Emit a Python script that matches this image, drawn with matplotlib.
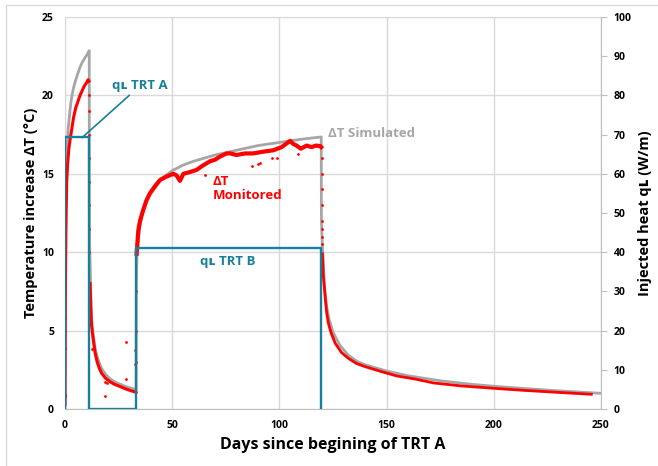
import numpy as np
import matplotlib
matplotlib.use('Agg')
import matplotlib.pyplot as plt
from matplotlib.patches import Rectangle

plt.rcParams['font.family'] = ['Open Sans', 'DejaVu Sans']
plt.rcParams['font.weight'] = 'bold'
plt.rcParams['axes.labelweight'] = 'bold'

# Simulated temperature increase (gray line)
sim_days = [0, 0.05, 0.2, 0.5, 0.8, 1.5, 2.3, 3, 4, 5.5, 7, 8, 9.3, 10.3, 11.3,
            11.35, 11.5, 12, 12.4, 13, 14, 15, 16, 17, 19, 21, 23, 25, 28, 30, 32, 33.2,
            33.3, 33.6, 34, 35, 36, 37, 38, 40, 42, 45, 50, 55, 60, 65, 70, 80, 90, 100, 110, 119.5,
            119.6, 120, 121, 122, 123, 125, 128, 132, 136, 140, 150, 160, 175, 190, 200, 215, 230, 250]
sim_dT = [0, 8.0, 11.5, 14.2, 16.4, 17.9, 19.0, 19.8, 20.5, 21.2, 21.8, 22.1, 22.4, 22.6, 22.85,
          13.0, 10.5, 7.6, 5.7, 4.9, 3.9, 3.35, 2.95, 2.6, 2.2, 1.92, 1.75, 1.62, 1.45, 1.36, 1.28, 1.22,
          8.0, 9.8, 10.6, 11.7, 12.4, 12.9, 13.3, 13.9, 14.3, 14.7, 15.2, 15.55, 15.8, 16.0, 16.2, 16.5, 16.8, 17.0, 17.2, 17.35,
          12.0, 10.5, 7.9, 6.6, 5.8, 4.9, 4.1, 3.45, 3.05, 2.82, 2.42, 2.12, 1.8, 1.57, 1.45, 1.3, 1.16, 1.0]

# Monitored temperature increase (red)
mon_days = [0, 0.1, 0.2, 0.4, 0.6, 0.8, 1.2, 1.8, 2.5, 3.1, 4, 5, 6, 7, 8, 9, 10, 10.8, 11.2,
            11.7, 12.0, 12.4, 13, 14, 15, 16, 17.1, 19, 21, 23, 25, 28, 30, 32.3, 33.2,
            33.4, 34.2, 35, 36.5, 38, 39.6, 42, 44.3, 47, 50.5, 52, 53.6, 55.2, 58, 61.4, 64, 67.6,
            70, 72.3, 75.4, 77, 80, 84, 87.8, 92, 97.2, 101, 103, 105, 106.5, 108, 110, 112.7,
            115, 117, 119, 119.5,
            120.1, 120.5, 121.3, 122, 122.8, 124, 126, 129, 132, 136, 140, 147.7, 155, 163,
            172, 185, 200, 215, 230, 245.5]
mon_dT = [0.3, 5.0, 8.0, 11.0, 13.0, 14.5, 15.6, 16.6, 17.3, 17.8, 18.6, 19.2, 19.6, 20.0, 20.3, 20.6, 20.8, 21.0, 20.9,
          8.0, 6.5, 5.3, 4.6, 3.6, 3.0, 2.6, 2.27, 1.95, 1.74, 1.58, 1.47, 1.3, 1.2, 1.1, 1.05,
          9.9, 11.4, 12.0, 12.7, 13.3, 13.75, 14.2, 14.6, 14.8, 15.0, 14.9, 14.55, 15.0, 15.1, 15.25, 15.5, 15.8,
          15.9, 16.1, 16.3, 16.3, 16.2, 16.3, 16.3, 16.4, 16.5, 16.7, 16.9, 17.1, 16.9, 16.8, 16.6, 16.8,
          16.7, 16.8, 16.77, 16.7,
          9.9, 8.5, 7.2, 6.2, 5.5, 4.9, 4.2, 3.6, 3.25, 2.9, 2.7, 2.38, 2.1, 1.92,
          1.66, 1.47, 1.32, 1.18, 1.06, 0.94]

# Scattered monitored readings (step changes and outliers)
dot_days = [0, 0, 0, 0, 0, 0, 0, 0, 0, 0,
            11.2, 11.2, 11.2, 11.3, 11.3, 11.3, 11.4, 11.4,
            12.7, 18.7, 18.7, 19.7, 28.4, 28.4, 32.7, 32.7,
            33.3, 33.3, 33.3,
            65.3, 87, 90.2, 91, 96.4, 98.7, 108.8,
            119.8, 119.8, 119.9, 119.9, 119.9, 120, 120, 120]
dot_dT = [0.8, 0.9, 3.9, 5.0, 5.8, 6.4, 7.5, 8.6, 9.6, 10.8,
          20.0, 19.0, 17.5, 16.0, 14.5, 13.0, 11.5, 10.0,
          3.8, 0.83, 1.74, 1.64, 4.25, 1.9, 3.76, 2.9,
          3.0, 5.0, 7.5,
          14.9, 15.5, 15.6, 15.7, 16.0, 16.0, 16.25,
          16.0, 15.0, 14.0, 13.0, 12.0, 11.5, 11.0, 10.5]

# Injected heat rate per metre of borehole
q_days = [0, 0, 11.2, 11.2, 33.2, 33.2, 119.5, 119.5]
q_vals = [0, 69.5, 69.5, 0, 0, 41, 41, 0]

grid_c = '#D9D9D9'
teal = '#17809A'
gray = '#A6A6A6'
red = '#FF0000'

fig = plt.figure(figsize=(6.58, 4.66), dpi=100)
ax = fig.add_axes([65 / 658, 1 - 409 / 466, 536 / 658, 392 / 466])

ax.plot(sim_days, sim_dT, color=gray, lw=2.0, zorder=3)
ax.plot(mon_days[:19], mon_dT[:19], color=red, lw=2.2, zorder=4)
ax.plot(mon_days[19:35], mon_dT[19:35], color=red, lw=2.2, zorder=4)
ax.plot(mon_days[35:72], mon_dT[35:72], color=red, lw=3.0, zorder=4)
ax.plot(mon_days[72:], mon_dT[72:], color=red, lw=2.0, zorder=4)
ax.scatter(dot_days, dot_dT, s=4, color=red, lw=0, zorder=4)

ax.set_xlim(0, 250)
ax.set_ylim(0, 25)
ax.set_xticks(np.arange(0, 251, 50))
ax.set_yticks(np.arange(0, 26, 5))
ax.grid(True, color=grid_c, lw=1.0)
ax.set_axisbelow(True)
ax.tick_params(length=0, labelsize=7.5, pad=8)
for s in ax.spines.values():
    s.set_color(grid_c)
ax.spines['bottom'].set_color('#BFBFBF')

ax.set_xlabel('Days since begining of TRT A', fontsize=11.5, labelpad=4)
ax.set_ylabel('Temperature increase ΔT (°C)', fontsize=10.5, labelpad=3)

ax2 = ax.twinx()
ax2.plot(q_days, q_vals, color=teal, lw=1.7, zorder=5)
ax2.set_ylim(0, 100)
ax2.set_yticks(np.arange(0, 101, 10))
ax2.tick_params(length=4, color='#BFBFBF', labelsize=7.5, pad=5)
for s in ax2.spines.values():
    s.set_visible(False)
ax2.spines['right'].set_visible(True)
ax2.spines['right'].set_color('#BFBFBF')
ax2.set_ylabel('Injected heat qʟ (W/m)', fontsize=10.5, labelpad=5)

# Series labels
ax.annotate('qʟ TRT A', xy=(7.9, 17.3), xytext=(21.9, 20.6), color=teal, fontsize=9.5,
            ha='left', va='center',
            arrowprops=dict(arrowstyle='-', color=teal, lw=1.2, shrinkA=0, shrinkB=0))
ax.text(76, 9.4, 'qʟ TRT B', color=teal, fontsize=9.5, ha='center', va='center')
ax.text(122.5, 17.55, 'ΔT Simulated', color=gray, fontsize=9.5, ha='left', va='center')
ax.text(69, 14.9, 'ΔT\nMonitored', color=red, fontsize=9.5, ha='left', va='top', linespacing=1.1)

# Chart area border
fig.patches.append(Rectangle((6 / 658, -0.2), 1.2, 1.2 - 5 / 466,
                             transform=fig.transFigure, fill=False, edgecolor=grid_c, lw=1.0))

fig.savefig('out.png', dpi=100)
